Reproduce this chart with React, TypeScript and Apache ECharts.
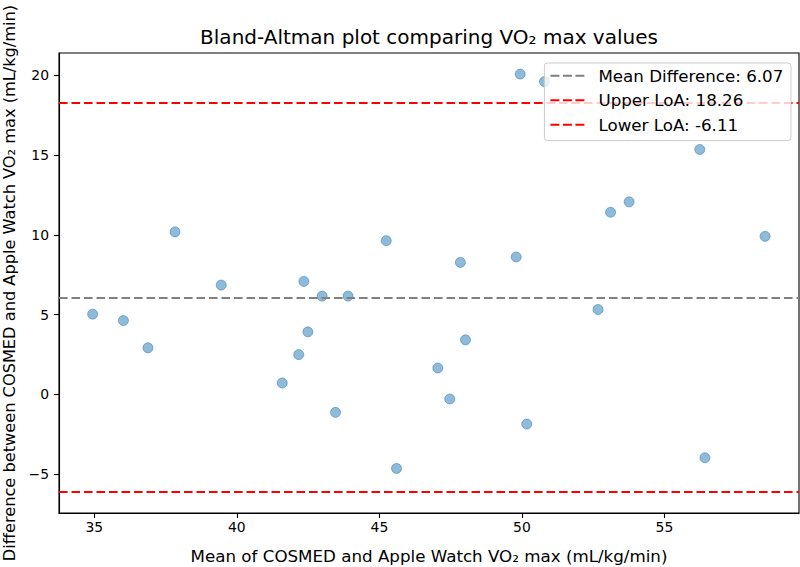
import React, { useEffect, useRef } from "react";
import * as echarts from "echarts";

// Mean of the two methods (x) and their difference (y)
const meanValues = [
  34.94, 36.02, 36.88, 37.83, 39.45, 41.59, 42.17, 42.35, 42.49, 42.99, 43.46, 43.9, 45.24, 45.6,
  47.05, 47.47, 47.84, 48.02, 49.8, 49.94, 50.17, 50.79, 52.67, 53.11, 53.76, 56.24, 56.42, 58.53,
];
const diffValues = [
  5.03, 4.63, 2.92, 10.18, 6.85, 0.72, 2.5, 7.08, 3.92, 6.16, -1.12, 6.16, 9.63, -4.63,
  1.66, -0.28, 8.27, 3.42, 8.61, 20.06, -1.85, 19.59, 5.32, 11.41, 12.06, 15.34, -3.96, 9.9,
];
const meanDiff = 6.07;
const upperLoA = 18.26;
const lowerLoA = -6.11;

const xTicks = [35, 40, 45, 50, 55];
const yTicks = [-5, 0, 5, 10, 15, 20];
const xLimits = [33.76, 59.72];
const yLimits = [-7.42, 21.38];

const titleText = "Bland-Altman plot comparing VO\u2082 max values";
const xLabel = "Mean of COSMED and Apple Watch VO\u2082 max (mL/kg/min)";
const yLabel = "Difference between COSMED and Apple Watch VO\u2082 max (mL/kg/min)";
const legendNames = [
  `Mean Difference: ${meanDiff.toFixed(2)}`,
  `Upper LoA: ${upperLoA.toFixed(2)}`,
  `Lower LoA: ${lowerLoA.toFixed(2)}`,
];

const FONT = "DejaVu Sans";
const DASH_ICON = "path://M0,0H9V2H0Z M12.5,0H21.5V2H12.5Z M25,0H34V2H25Z";

export default function App() {
  const ref = useRef<HTMLDivElement>(null);
  useEffect(() => {
    if (!ref.current) return;
    const chart = echarts.init(ref.current, undefined, { renderer: "svg" });
    const fmt = (v: number) => String(v).replace("-", "\u2212");
    const dash = [8.6, 3.9];
    const lineSeries = (name: string, value: number, color: string) => ({
      name,
      type: "line",
      data: [],
      symbol: "none",
      legendIcon: DASH_ICON,
      lineStyle: { color, width: 2.2, type: dash },
      itemStyle: { color, borderWidth: 0 },
      markLine: {
        silent: true,
        symbol: ["none", "none"],
        label: { show: false },
        lineStyle: { color, width: 2.2, type: dash },
        data: [{ yAxis: value }],
        z: 3,
      },
    });
    chart.setOption({
      animation: false,
      backgroundColor: "#fff",
      textStyle: { fontFamily: FONT },
      grid: {
        left: 59,
        right: 1,
        top: 53,
        bottom: 54,
        containLabel: false,
        outerBoundsMode: "none",
        show: true,
        borderColor: "#000",
        borderWidth: 1.1,
        backgroundColor: "transparent",
      },
      graphic: [
        {
          type: "text",
          x: 429,
          y: 37,
          style: {
            text: titleText,
            fontFamily: FONT,
            fontSize: 20,
            fill: "#000",
            textAlign: "center",
            textVerticalAlign: "middle",
          },
        },
      ],
      legend: {
        orient: "vertical",
        right: 9,
        top: 63,
        icon: DASH_ICON,
        itemWidth: 34,
        itemHeight: 2.2,
        itemGap: 7.5,
        padding: [4.3, 7.7, 7.3, 6],
        backgroundColor: "rgba(255,255,255,0.8)",
        borderColor: "#cccccc",
        borderWidth: 1,
        borderRadius: 3,
        selectedMode: false,
        itemStyle: { borderWidth: 0 },
        textStyle: { fontFamily: FONT, fontSize: 16.7, color: "#000", padding: [0, 0, 0, 9] },
        data: legendNames,
      },
      xAxis: {
        type: "value",
        min: xLimits[0],
        max: xLimits[1],
        name: xLabel,
        nameLocation: "middle",
        nameGap: 34,
        nameTextStyle: { fontFamily: FONT, fontSize: 16.7, color: "#000" },
        axisLine: { show: true, onZero: false, lineStyle: { color: "#000", width: 1.1 } },
        axisTick: { show: true, length: 5, lineStyle: { color: "#000", width: 1.1 }, customValues: xTicks },
        axisLabel: { customValues: xTicks, formatter: fmt, fontFamily: FONT, fontSize: 13.9, color: "#000", margin: 7 },
        splitLine: { show: false },
      },
      yAxis: {
        type: "value",
        min: yLimits[0],
        max: yLimits[1],
        name: yLabel,
        nameLocation: "middle",
        nameRotate: 90,
        nameGap: 42,
        nameTextStyle: { fontFamily: FONT, fontSize: 16.2, color: "#000" },
        axisLine: { show: true, onZero: false, lineStyle: { color: "#000", width: 1.1 } },
        axisTick: { show: true, length: 5, lineStyle: { color: "#000", width: 1.1 }, customValues: yTicks },
        axisLabel: { customValues: yTicks, formatter: fmt, fontFamily: FONT, fontSize: 13.9, color: "#000", margin: 10 },
        splitLine: { show: false },
      },
      series: [
        {
          name: "points",
          type: "scatter",
          symbolSize: 10,
          data: meanValues.map((m, i) => [m, diffValues[i]]),
          itemStyle: {
            color: "rgba(31,119,180,0.5)",
            borderColor: "rgba(31,119,180,0.5)",
            borderWidth: 1,
            opacity: 1,
          },
          z: 2,
        },
        lineSeries(legendNames[0], meanDiff, "#808080"),
        lineSeries(legendNames[1], upperLoA, "#ff0000"),
        lineSeries(legendNames[2], lowerLoA, "#ff0000"),
      ],
    });
    return () => chart.dispose();
  }, []);
  return (
    <div
      ref={ref}
      style={{ position: "absolute", left: 0, top: 0, width: 800, height: 567 }}
    />
  );
}
